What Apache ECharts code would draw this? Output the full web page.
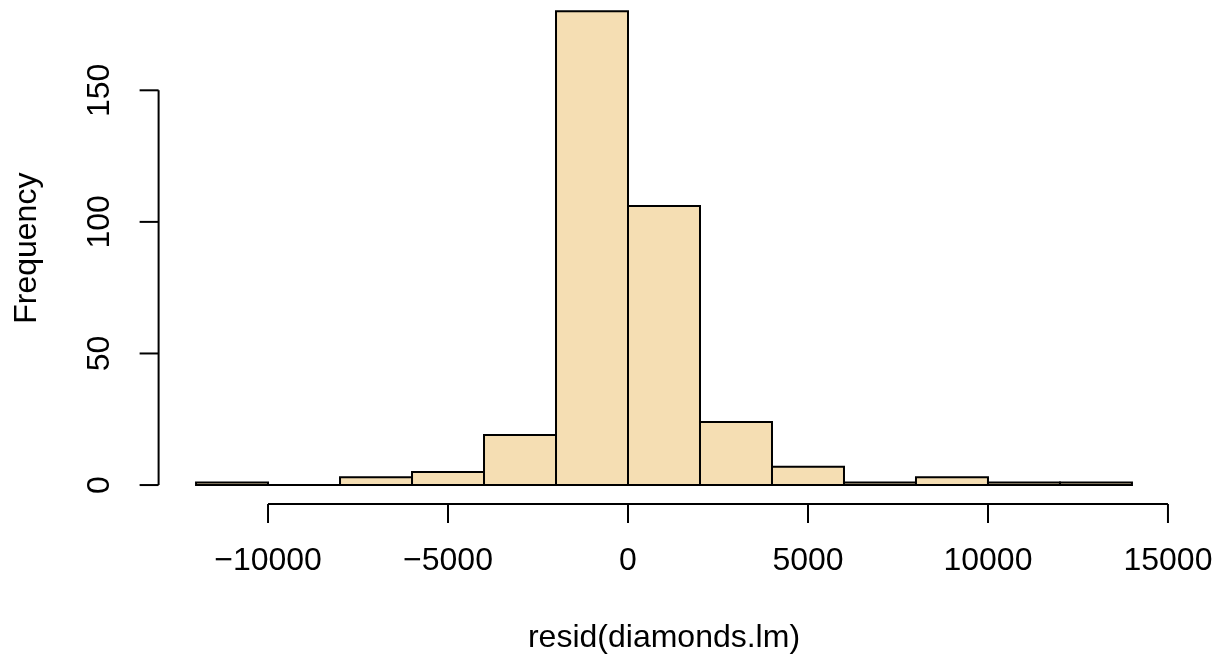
<!DOCTYPE html>
<html>
<head>
<meta charset="utf-8">
<script src="https://cdn.jsdelivr.net/npm/echarts@6/dist/echarts.min.js"></script>
<style>
html,body{margin:0;padding:0;background:#fff;overflow:hidden;width:1220px;height:661px;position:relative;}
#chart{position:absolute;left:0;top:-8px;width:1220px;height:669px;}
</style>
</head>
<body>
<div id="chart"></div>
<script>
const breaks = [-12000,-10000,-8000,-6000,-4000,-2000,0,2000,4000,6000,8000,10000,12000,14000];
const counts = [1,0,3,5,19,180,106,24,7,1,3,1,1];
const xTicks = [-10000,-5000,0,5000,10000,15000];
const yTicks = [0,50,100,150];
const xTitle = 'resid(diamonds.lm)';
const yTitle = 'Frequency';

const FONT = '"Liberation Sans", Arial, Helvetica, sans-serif';
const xr = breaks[breaks.length-1] - breaks[0];
const xMin = breaks[0] - 0.04*xr, xMax = breaks[breaks.length-1] + 0.04*xr;
const yTop = Math.max(...counts);
const yMin = -0.04*yTop, yMax = yTop + 0.04*yTop;

const bins = counts.map((c,i)=>[breaks[i], breaks[i+1], c]);
const fmt = v => (v < 0 ? '\u2212' + Math.abs(v) : String(v));

const chart = echarts.init(document.getElementById('chart'), null, {renderer:'canvas'});
chart.setOption({
  animation:false,
  backgroundColor:'#ffffff',
  grid:{left:158.6, right:50.6, top:0.4, bottom:157, containLabel:false},
  xAxis:{
    type:'value', min:xMin, max:xMax,
    splitLine:{show:false}, axisLine:{show:false}, axisTick:{show:false},
    axisLabel:{customValues:xTicks, formatter:fmt, color:'#000', fontSize:32, fontFamily:FONT, margin:41},
    name:xTitle, nameLocation:'middle', nameGap:118,
    nameTextStyle:{color:'#000', fontSize:32, fontFamily:FONT}
  },
  yAxis:{
    type:'value', min:yMin, max:yMax,
    splitLine:{show:false}, axisLine:{show:false}, axisTick:{show:false},
    axisLabel:{customValues:yTicks, rotate:90, color:'#000', fontSize:32, fontFamily:FONT, margin:42},
    name:yTitle, nameLocation:'middle', nameGap:115, nameRotate:90,
    nameTextStyle:{color:'#000', fontSize:32, fontFamily:FONT}
  },
  series:[
    {
      type:'custom', clip:false, silent:true,
      data:bins,
      encode:{x:[0,1], y:2},
      renderItem:function(params, api){
        const p0 = api.coord([api.value(0), 0]);
        const p1 = api.coord([api.value(1), api.value(2)]);
        return {
          type:'rect',
          shape:{x:p0[0], y:p1[1], width:p1[0]-p0[0], height:p0[1]-p1[1]},
          style:{fill:'#F5DEB3', stroke:'#000', lineWidth:2}
        };
      }
    },
    {
      type:'custom', clip:false, silent:true,
      data:[[0,0]],
      renderItem:function(params, api){
        const T = 19;
        const children = [];
        const a = api.coord([xTicks[0], yMin]);
        const b = api.coord([xTicks[xTicks.length-1], yMin]);
        children.push({type:'line', shape:{x1:a[0], y1:a[1], x2:b[0], y2:b[1]}, style:{stroke:'#000', lineWidth:2}});
        xTicks.forEach(v=>{
          const p = api.coord([v, yMin]);
          children.push({type:'line', shape:{x1:p[0], y1:p[1], x2:p[0], y2:p[1]+T}, style:{stroke:'#000', lineWidth:2}});
        });
        const c = api.coord([xMin, yTicks[0]]);
        const d = api.coord([xMin, yTicks[yTicks.length-1]]);
        children.push({type:'line', shape:{x1:c[0], y1:c[1], x2:d[0], y2:d[1]}, style:{stroke:'#000', lineWidth:2}});
        yTicks.forEach(v=>{
          const p = api.coord([xMin, v]);
          children.push({type:'line', shape:{x1:p[0], y1:p[1], x2:p[0]-T, y2:p[1]}, style:{stroke:'#000', lineWidth:2}});
        });
        return {type:'group', children:children};
      }
    }
  ]
});
</script>
</body>
</html>
